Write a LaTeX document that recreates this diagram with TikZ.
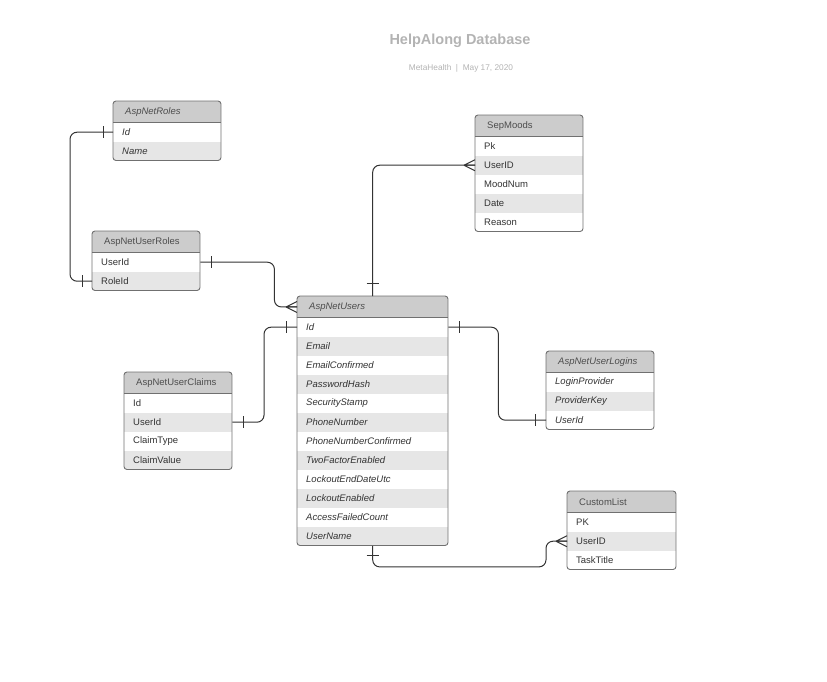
\documentclass[tikz,border=0pt]{standalone}
\usepackage{fontspec}
\setmainfont{Liberation Sans}
\definecolor{hdrc}{HTML}{CCCCCC}
\definecolor{rowgray}{HTML}{E6E6E6}
\definecolor{borderc}{HTML}{707070}
\definecolor{connc}{HTML}{333333}
\definecolor{txtc}{HTML}{333333}
\definecolor{hdtxt}{HTML}{4D4D4D}
\definecolor{titlec}{HTML}{B3B3B3}
\newcommand\erfont{\fontsize{9.5}{11}\selectfont}
\tikzset{
  erhead/.style={anchor=north west, fill=hdrc, inner xsep=12pt, inner ysep=0pt, minimum height=21.5pt, align=left, text=hdtxt},
  errow/.style={anchor=north west, inner xsep=9pt, inner ysep=0pt, minimum height=19pt, align=left, text=txtc},
  erborder/.style={draw=borderc, line width=0.9pt},
  conn/.style={draw=connc, line width=1pt, rounded corners=7pt},
  tick/.style={draw=connc, line width=1pt}
}
% #1 id, #2 x, #3 y, #4 width, #5 rows count, #6 font shape, #7 title, #8 rows
\newcommand\ertable[8]{%
  \pgfmathsetmacro\erH{21.5+19*#5}%
  \pgfmathsetmacro\erHW{#4-24}%
  \pgfmathsetmacro\erRW{#4-18}%
  \begin{scope}
    \clip[rounded corners=3pt] (#2,-#3) rectangle ++(#4,-\erH);
    \node[erhead, font=\erfont#6, text width=\erHW pt, minimum width=#4pt] (#1) at (#2,-#3) {#7};
    \foreach \r [count=\i] in {#8} {
      \pgfmathtruncatemacro\erodd{mod(\i,2)}
      \ifnum\erodd=0 \def\erfill{rowgray}\else\def\erfill{white}\fi
      \node[errow, fill=\erfill, font=\erfont#6, text width=\erRW pt, minimum width=#4pt] (#1-\i) at (#2,-#3-21.5-19*\i+19) {\r};
    }
  \end{scope}
  \draw[erborder] (#2,-#3-21.5) -- ++(#4,0);
  \draw[erborder, rounded corners=3pt] (#2,-#3) rectangle ++(#4,-\erH);
}
\newcommand\crowW[1]{%
  \draw[tick] ([xshift=-11]#1) -- ([yshift=5.5]#1) ([xshift=-11]#1) -- ([yshift=-5.5]#1) ([xshift=-11]#1) -- (#1);
}
\begin{document}
\begin{tikzpicture}[x=1pt,y=1pt]
\useasboundingbox (0,0) rectangle (827,-682);
\node[text=titlec, font=\fontsize{14.5}{17}\selectfont\bfseries] (title) at (460,-41) {HelpAlong Database};
\node[text=titlec, font=\fontsize{8.3}{10}\selectfont] (sub) at (461,-68) {MetaHealth~~|~~May 17, 2020};

\ertable{roles}{113}{101}{108}{2}{\itshape}{AspNetRoles}{Id,Name}
\ertable{sepmoods}{475}{115}{108}{5}{}{SepMoods}{Pk,UserID,MoodNum,Date,Reason}
\ertable{userroles}{92}{231}{108}{2}{}{AspNetUserRoles}{UserId,RoleId}
\ertable{users}{297}{296}{151}{12}{\itshape}{AspNetUsers}{Id,Email,EmailConfirmed,PasswordHash,SecurityStamp,PhoneNumber,PhoneNumberConfirmed,TwoFactorEnabled,LockoutEndDateUtc,LockoutEnabled,AccessFailedCount,UserName}
\ertable{claims}{124}{372}{108}{4}{}{AspNetUserClaims}{Id,UserId,ClaimType,ClaimValue}
\ertable{logins}{546}{351}{108}{3}{\itshape}{AspNetUserLogins}{LoginProvider,ProviderKey,UserId}
\ertable{custom}{567}{491}{109}{3}{}{CustomList}{PK,UserID,TaskTitle}

% AspNetRoles -- AspNetUserRoles
\draw[conn] (roles-1.west) -- ++(-43,0) |- (userroles-2.west);
\draw[tick] ([xshift=-10,yshift=6]roles-1.west) -- ++(0,-12);
\draw[tick] ([xshift=-10,yshift=6]userroles-2.west) -- ++(0,-12);

% SepMoods -- AspNetUsers
\draw[conn] (sepmoods-2.west) -| (users.north);
\crowW{sepmoods-2.west}
\draw[tick] ([xshift=-6,yshift=13]users.north) -- ++(12,0);

% AspNetUserRoles -- AspNetUsers
\draw[conn] (userroles-1.east) -- ++(74,0) |- (users.west);
\draw[tick] ([xshift=11,yshift=6]userroles-1.east) -- ++(0,-12);
\crowW{users.west}

% AspNetUsers -- AspNetUserClaims
\draw[conn] (users-1.west) -- ++(-33,0) |- (claims-2.east);
\draw[tick] ([xshift=-11,yshift=6]users-1.west) -- ++(0,-12);
\draw[tick] ([xshift=11,yshift=6]claims-2.east) -- ++(0,-12);

% AspNetUsers -- AspNetUserLogins
\draw[conn] (users-1.east) -- ++(50,0) |- (logins-3.west);
\draw[tick] ([xshift=11,yshift=6]users-1.east) -- ++(0,-12);
\draw[tick] ([xshift=-11,yshift=6]logins-3.west) -- ++(0,-12);

% AspNetUsers -- CustomList
\draw[conn] (users-12.south) -- ++(0,-21) -| ([xshift=-21]custom-2.west) -- (custom-2.west);
\draw[tick] ([xshift=-6,yshift=-10]users-12.south) -- ++(12,0);
\crowW{custom-2.west}
\end{tikzpicture}
\end{document}
